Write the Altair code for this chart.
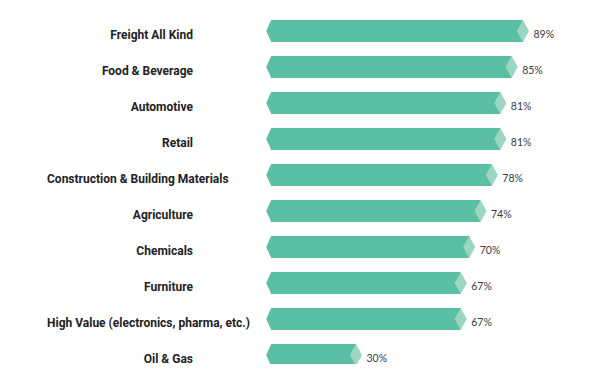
import altair as alt
import pandas as pd

categories = [
    "Freight All Kind",
    "Food & Beverage",
    "Automotive",
    "Retail",
    "Construction & Building Materials",
    "Agriculture",
    "Chemicals",
    "Furniture",
    "High Value (electronics, pharma, etc.)",
    "Oil & Gas",
]
values = [89, 85, 81, 81, 78, 74, 70, 67, 67, 30]

df = pd.DataFrame({"category": categories, "value": values})

BAR = "#5bbfa6"
LIGHT = "#9dd5c3"

base = alt.Chart(df).transform_calculate(
    zero="0",
    label="datum.value + '%'",
    long="length(datum.category) > 30",
)

x_scale = alt.Scale(domain=[-93, 113.4], nice=False, zero=False)
y_enc = alt.Y("category:N", sort=None, axis=None,
              scale=alt.Scale(type="point", padding=0.25))

body = base.mark_rule(strokeWidth=22, color=BAR, strokeCap="butt").encode(
    x=alt.X("zero:Q", scale=x_scale, axis=None),
    x2="value:Q",
    y=y_enc,
)

left_tip = base.mark_point(
    shape="M0,-1L0.45,0L0,1L-0.45,0Z", size=484, filled=True,
    opacity=1, strokeWidth=0, color=BAR,
).encode(x=alt.X("zero:Q", scale=x_scale, axis=None), y=y_enc)

right_tip = base.mark_point(
    shape="M0,-1L0.55,0L0,1L-0.55,0Z", size=484, filled=True,
    opacity=1, strokeWidth=0, color=LIGHT,
).encode(x=alt.X("value:Q", scale=x_scale, axis=None), y=y_enc)

value_text = base.mark_text(
    align="left", baseline="alphabetic", dx=10.5, dy=7,
    font="Lato", fontSize=10.5, color="#3a3a3a",
).encode(x=alt.X("value:Q", scale=x_scale, axis=None), y=y_enc, text="label:N")

cat_short = base.transform_filter("!datum.long").mark_text(
    align="right", baseline="alphabetic", dy=7.5,
    font="Roboto", fontWeight="bold", fontSize=12, color="#222222",
).encode(x=alt.value(185), y=y_enc, text="category:N")

cat_long = base.transform_filter("datum.long").mark_text(
    align="left", baseline="alphabetic", dy=7.5,
    font="Roboto", fontWeight="bold", fontSize=12, color="#222222",
).encode(x=alt.value(39), y=y_enc, text="category:N")

chart = alt.layer(body, left_tip, right_tip, value_text, cat_short, cat_long).properties(
    width=584,
    height=342,
    padding={"top": 14, "left": 0, "right": 0, "bottom": 0},
    autosize=alt.AutoSizeParams(type="none"),
).configure_view(stroke=None)

chart.save("out.html", embed_options={"renderer": "svg", "actions": False})
